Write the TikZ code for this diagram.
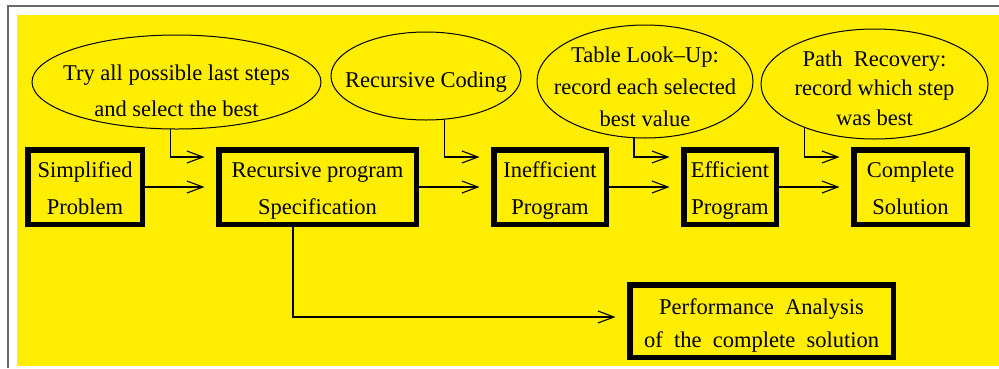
\documentclass[tikz,border=0pt]{standalone}
\usepackage{fontspec}
\setmainfont{Liberation Serif}
\usepackage{xcolor}
\definecolor{bgyellow}{RGB}{255,238,0}
\definecolor{framegray}{RGB}{105,105,105}
\usetikzlibrary{arrows.meta}
\usetikzlibrary{shapes.geometric}
\usetikzlibrary{positioning}

\tikzset{
    stagebox/.style={draw=black, line width=5.5pt, align=center, inner sep=0pt,
        font=\fontsize{22.5}{37}\selectfont, text height=54pt, text depth=0pt},
    ideabubble/.style={draw=black, ellipse, line width=1pt, inner sep=0pt},
    bubbletext/.style={align=center, inner sep=0pt,
        font=\fontsize{22.5}{32}\selectfont,
        execute at begin node={\rule{0pt}{17pt}},
        execute at end node={\rule[-3pt]{0pt}{3pt}}},
    flowarrow/.style={line width=1.1pt, -{Straight Barb[length=16pt,width=12pt]}, shorten >=11.5pt}
}

\begin{document}
\begin{tikzpicture}[x=1pt, y=-1pt]
    \useasboundingbox (0,0) rectangle (999,368);

    % background and frame
    \fill[bgyellow] (17,15) rectangle (999,366);
    \draw[framegray, line width=2pt] (8,368) -- (8,6) -- (999,6);

    % ideas
    \node[ideabubble, minimum width=289pt, minimum height=94pt] (tryall) at (176.5,82) {};
    \node[bubbletext, font=\fontsize{22.5}{36}\selectfont] (tryalltext) at ([yshift=-10pt]tryall.center)
        {Try all possible last steps\\and select the best};
    \node[ideabubble, minimum width=190pt, minimum height=88pt] (coding) at (426,76) {};
    \node[bubbletext] (codingtext) at ([yshift=-5pt]coding.center)
        {Recursive Coding};
    \node[ideabubble, minimum width=216pt, minimum height=113pt] (lookup) at (645,81.5) {};
    \node[bubbletext] (lookuptext) at ([yshift=-6.5pt]lookup.center)
        {Table Look--Up:\\record each selected\\best value};
    \node[ideabubble, minimum width=227pt, minimum height=110pt] (recovery) at (874.5,84) {};
    \node[bubbletext, font=\fontsize{22.5}{29.5}\selectfont] (recoverytext) at ([yshift=-5.5pt]recovery.center)
        {Path\ \ Recovery:\\record which step\\was best};

    % stages
    \node[stagebox, minimum width=114.5pt, minimum height=74.5pt] (simp) at (85,187)
        {Simplified\\Problem};
    \node[stagebox, minimum width=197.5pt, minimum height=74.5pt] (spec) at (317.5,187)
        {Recursive program\\Specification};
    \node[stagebox, minimum width=112.5pt, minimum height=74.5pt] (ineff) at (550,187)
        {Inefficient\\Program};
    \node[stagebox, minimum width=92.5pt, minimum height=74.5pt] (eff) at (730,187)
        {Efficient\\Program};
    \node[stagebox, minimum width=113.5pt, minimum height=74.5pt] (compl) at (910.5,187)
        {Complete\\Solution};
    \node[stagebox, font=\fontsize{22.5}{33}\selectfont, text height=52pt,
        minimum width=263.5pt, minimum height=72.5pt] (perf) at (761.5,321)
        {Performance\ \ Analysis\\of\ \ the\ \ complete\ \ solution};

    % main flow
    \draw[flowarrow] (simp.east) -- (spec.west);
    \draw[flowarrow] (spec.east) -- (ineff.west);
    \draw[flowarrow] (ineff.east) -- (eff.west);
    \draw[flowarrow] (eff.east) -- (compl.west);

    % ideas feeding in
    \draw[flowarrow] (tryall.263.3) |- ([yshift=30pt]spec.west);
    \draw[flowarrow] (coding.293.8) |- ([yshift=30pt]ineff.west);
    \draw[flowarrow] (lookup.259.9) |- ([yshift=30pt]eff.west);
    \draw[flowarrow] (recovery.212.6) |- ([yshift=30pt]compl.west);

    \draw[flowarrow] ([xshift=-24.5pt]spec.south) |- ([yshift=4pt]perf.west);
\end{tikzpicture}
\end{document}
